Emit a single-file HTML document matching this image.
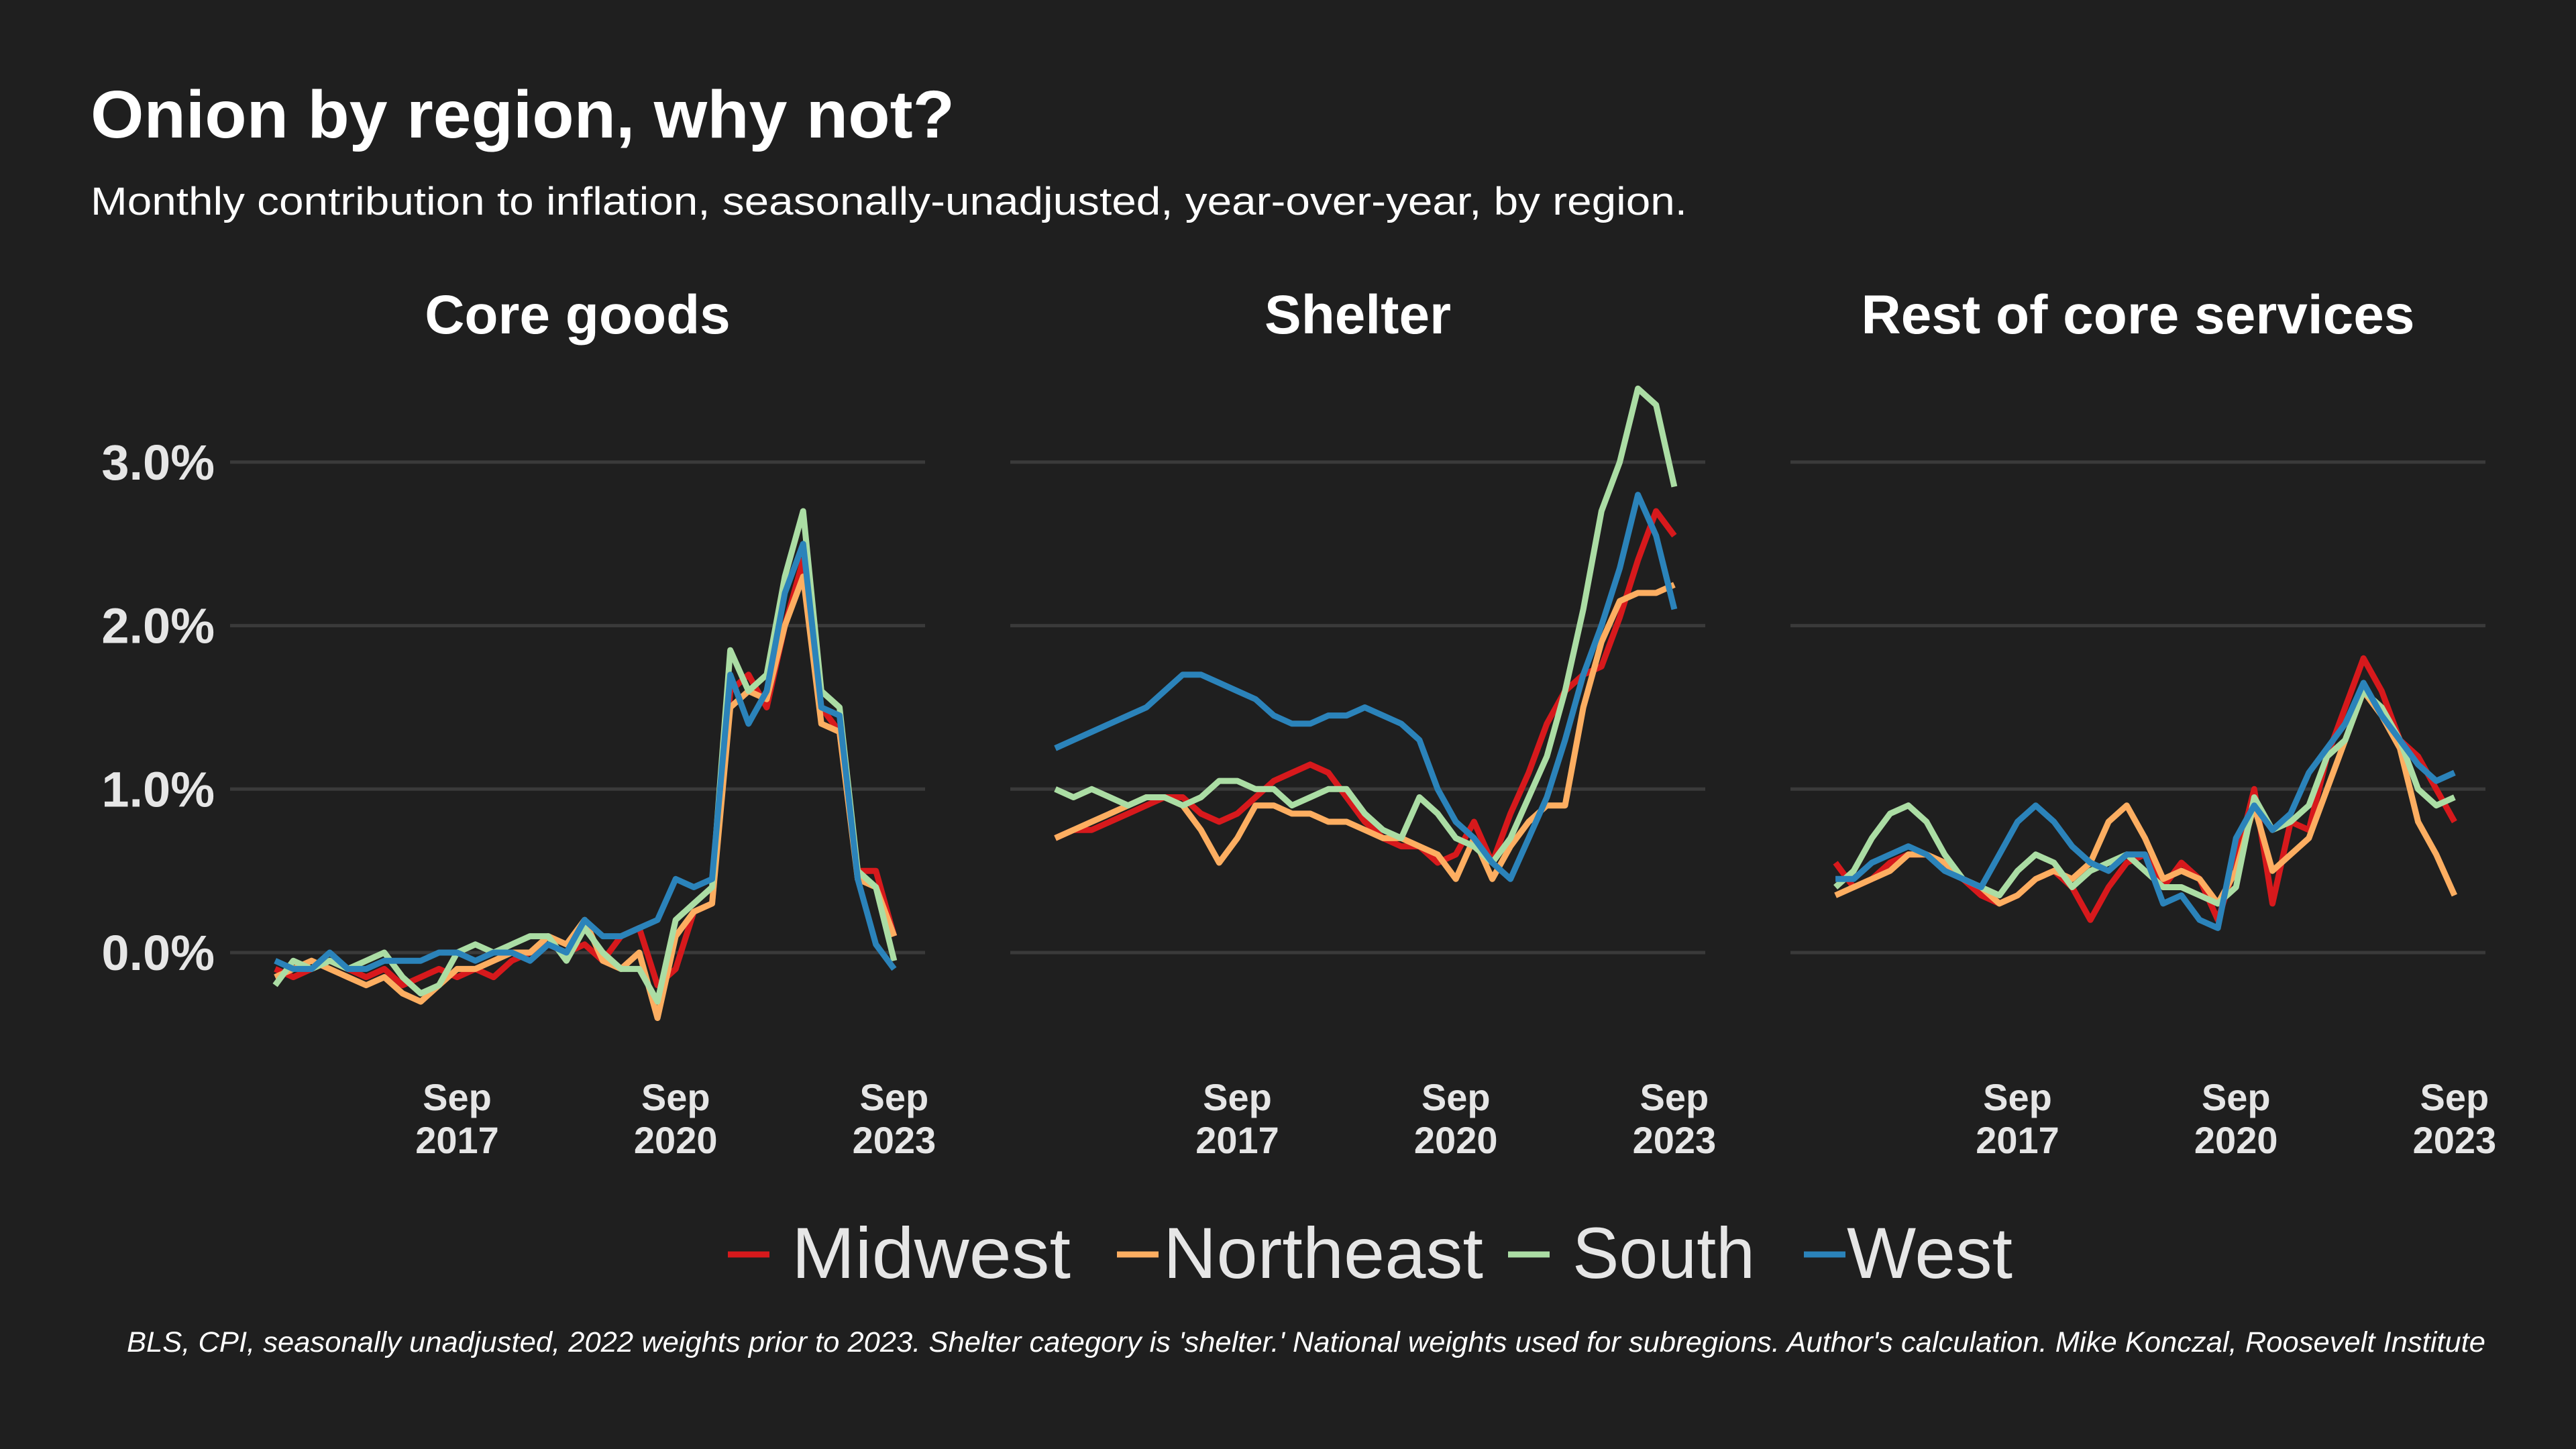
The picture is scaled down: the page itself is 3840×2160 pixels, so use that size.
<!DOCTYPE html>
<html><head><meta charset="utf-8"><style>
html,body{margin:0;padding:0;background:#1f1f1f;}
svg{display:block;font-family:"Liberation Sans",sans-serif;}
</style></head><body>
<svg id="c" width="3840" height="2160" viewBox="0 0 3840 2160" xmlns="http://www.w3.org/2000/svg">
<rect width="3840" height="2160" fill="#1f1f1f"/>
<text x="135" y="205" font-size="100" font-weight="bold" fill="#ffffff" textLength="1288" lengthAdjust="spacingAndGlyphs">Onion by region, why not?</text>
<text x="135" y="320" font-size="58" fill="#ffffff" textLength="2380" lengthAdjust="spacingAndGlyphs">Monthly contribution to inflation, seasonally-unadjusted, year-over-year, by region.</text>
<g id="legend"></g>
<text x="189" y="2015" font-size="43" font-style="italic" fill="#ffffff" textLength="3516" lengthAdjust="spacingAndGlyphs">BLS, CPI, seasonally unadjusted, 2022 weights prior to 2023. Shelter category is 'shelter.'  National weights used for subregions. Author's calculation. Mike Konczal, Roosevelt Institute</text>
</svg>
<script>
// months since Jan 2015, quarterly Mar 2015 .. Sep 2023
const months = [];
for (let m = 2; m <= 104; m += 3) months.push(m);
const panelTitles = ["Core goods", "Shelter", "Rest of core services"];
const seriesNames = ["Midwest", "Northeast", "South", "West"];
const seriesColors = ["#d7191c", "#fdae61", "#abdda4", "#2b83ba"];
const yTicks = [0, 1, 2, 3];
const yTickLabels = ["0.0%", "1.0%", "2.0%", "3.0%"];
const xTickMonths = [32, 68, 104];
const xTickLabels = [["Sep", "2017"], ["Sep", "2020"], ["Sep", "2023"]];

const goodsMidwest = [-0.1,-0.15,-0.1,-0.05,-0.1,-0.15,-0.1,-0.2,-0.15,-0.1,-0.15,-0.1,-0.15,-0.05,0,0.05,0.0,0.05,-0.05,0.1,0.15,-0.2,-0.1,0.25,0.3,1.6,1.7,1.5,2.0,2.4,1.5,1.35,0.5,0.5,0.1];
const goodsNortheast = [-0.15,-0.1,-0.05,-0.1,-0.15,-0.2,-0.15,-0.25,-0.3,-0.2,-0.1,-0.1,-0.05,0,0.0,0.1,0.05,0.2,-0.05,-0.1,0.0,-0.4,0.1,0.25,0.3,1.5,1.6,1.55,2.0,2.3,1.4,1.35,0.45,0.4,0.1];
const goodsSouth = [-0.2,-0.05,-0.1,-0.05,-0.1,-0.05,0.0,-0.15,-0.25,-0.2,0.0,0.05,0.0,0.05,0.1,0.1,-0.05,0.15,0.0,-0.1,-0.1,-0.3,0.2,0.3,0.4,1.85,1.6,1.7,2.3,2.7,1.6,1.5,0.5,0.4,-0.05];
const goodsWest = [-0.05,-0.1,-0.1,0.0,-0.1,-0.1,-0.05,-0.05,-0.05,0.0,0.0,-0.05,0.0,0.0,-0.05,0.05,0.0,0.2,0.1,0.1,0.15,0.2,0.45,0.4,0.45,1.7,1.4,1.6,2.2,2.5,1.5,1.45,0.45,0.05,-0.1];

const shelterMidwest = [0.7,0.75,0.75,0.8,0.85,0.9,0.95,0.95,0.85,0.8,0.85,0.95,1.05,1.1,1.15,1.1,0.95,0.8,0.7,0.65,0.65,0.55,0.6,0.8,0.55,0.85,1.1,1.4,1.6,1.7,1.75,2.05,2.4,2.7,2.55];
const shelterNortheast = [0.7,0.75,0.8,0.85,0.9,0.95,0.95,0.9,0.75,0.55,0.7,0.9,0.9,0.85,0.85,0.8,0.8,0.75,0.7,0.7,0.65,0.6,0.45,0.7,0.45,0.65,0.8,0.9,0.9,1.5,1.9,2.15,2.2,2.2,2.25];
const shelterSouth = [1.0,0.95,1.0,0.95,0.9,0.95,0.95,0.9,0.95,1.05,1.05,1.0,1.0,0.9,0.95,1.0,1.0,0.85,0.75,0.7,0.95,0.85,0.7,0.65,0.55,0.7,0.95,1.2,1.6,2.1,2.7,3.0,3.45,3.35,2.85];
const shelterWest = [1.25,1.3,1.35,1.4,1.45,1.5,1.6,1.7,1.7,1.65,1.6,1.55,1.45,1.4,1.4,1.45,1.45,1.5,1.45,1.4,1.3,1.0,0.8,0.7,0.55,0.45,0.7,0.95,1.3,1.7,2.0,2.35,2.8,2.55,2.1];

const restMidwest = [0.55,0.4,0.45,0.55,0.6,0.6,0.55,0.45,0.35,0.3,0.35,0.45,0.5,0.4,0.2,0.4,0.55,0.6,0.4,0.55,0.45,0.2,0.55,1.0,0.3,0.8,0.75,1.2,1.5,1.8,1.6,1.3,1.2,1.0,0.8];
const restNortheast = [0.35,0.4,0.45,0.5,0.6,0.6,0.55,0.45,0.4,0.3,0.35,0.45,0.5,0.45,0.55,0.8,0.9,0.7,0.45,0.5,0.45,0.3,0.5,0.9,0.5,0.6,0.7,1.0,1.3,1.6,1.45,1.25,0.8,0.6,0.35];
const restSouth = [0.4,0.5,0.7,0.85,0.9,0.8,0.6,0.45,0.4,0.35,0.5,0.6,0.55,0.4,0.5,0.55,0.6,0.5,0.4,0.4,0.35,0.3,0.4,0.95,0.75,0.8,0.9,1.2,1.3,1.6,1.5,1.3,1.0,0.9,0.95];
const restWest = [0.45,0.45,0.55,0.6,0.65,0.6,0.5,0.45,0.4,0.6,0.8,0.9,0.8,0.65,0.55,0.5,0.6,0.6,0.3,0.35,0.2,0.15,0.7,0.9,0.75,0.85,1.1,1.25,1.4,1.65,1.45,1.3,1.15,1.05,1.1];

const panelData = [
  [goodsMidwest, goodsNortheast, goodsSouth, goodsWest],
  [shelterMidwest, shelterNortheast, shelterSouth, shelterWest],
  [restMidwest, restNortheast, restSouth, restWest]
];

const NS = "http://www.w3.org/2000/svg";
const svg = document.getElementById("c");
const PANEL_DX = 1163;
const Y0 = 1420, Y_PER = 243.7;
const X0 = 392, X_PER = 9.047;
function yScale(v){ return Y0 - v * Y_PER; }
function xScale(p, m){ return X0 + p * PANEL_DX + m * X_PER; }
function mk(tag, attrs){ const e = document.createElementNS(NS, tag); for (const k in attrs) e.setAttribute(k, attrs[k]); return e; }

for (let p = 0; p < 3; p++) {
  const g = mk("g", {});
  
  
  svg.appendChild(g);
  const gl = 343 + p * PANEL_DX, gr = 1379 + p * PANEL_DX;
  const t = mk("text", {x: (gl + gr) / 2, y: 497, "font-size": 82, "font-weight": "bold", fill: "#fff", "text-anchor": "middle"});
  t.textContent = panelTitles[p];
  
  
  g.appendChild(t);
  yTicks.forEach((v, i) => {
    const l = mk("line", {x1: gl, x2: gr, y1: yScale(v), y2: yScale(v), stroke: "#3a3a3a", "stroke-width": 5});
    
    
    g.appendChild(l);
    if (p === 0) {
      const lb = mk("text", {x: 320, y: yScale(v) + 26, "font-size": 74, "font-weight": "bold", fill: "#e6e6e6", "text-anchor": "end"});
      lb.textContent = yTickLabels[i];
      
      
      g.appendChild(lb);
    }
  });
  xTickMonths.forEach((m, i) => {
    const x = xScale(p, m);
    xTickLabels[i].forEach((s, j) => {
      const lb = mk("text", {x: x, y: 1655 + j * 64, "font-size": 56, "font-weight": "bold", fill: "#e6e6e6", "text-anchor": "middle"});
      lb.textContent = s;
      
      
      g.appendChild(lb);
    });
  });
  panelData[p].forEach((vals, s) => {
    const d = vals.map((v, i) => (i ? "L" : "M") + xScale(p, months[i]).toFixed(1) + "," + yScale(v).toFixed(1)).join(" ");
    const path = mk("path", {d: d, fill: "none", stroke: seriesColors[s], "stroke-width": 9, "stroke-linejoin": "round"});
    
    
    g.appendChild(path);
  });
}

const leg = document.getElementById("legend");
const legX = [1085, 1665, 2248, 2689];
const legTextX = [1180, 1734, 2344, 2753];
const legTextW = [416, 477, 272, 247];
seriesNames.forEach((n, i) => {
  const l = mk("line", {x1: legX[i], x2: legX[i] + 62, y1: 1870, y2: 1870, stroke: seriesColors[i], "stroke-width": 9});
  
  
  leg.appendChild(l);
  const t = mk("text", {x: legTextX[i], y: 1905, "font-size": 108, fill: "#e6e6e6", textLength: legTextW[i], lengthAdjust: "spacingAndGlyphs"});
  t.textContent = n;
  
  
  leg.appendChild(t);
});
</script>
</body></html>
